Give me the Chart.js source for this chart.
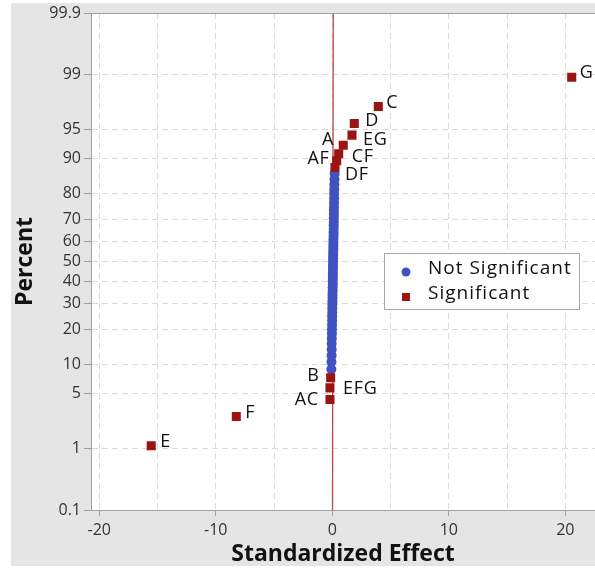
<!DOCTYPE html>
<html>
<head>
<meta charset="utf-8">
<script src="https://cdn.jsdelivr.net/npm/chart.js@4.4.1/dist/chart.umd.min.js"></script>
<style>
  html, body { margin: 0; padding: 0; background: #fff; }
  #wrap { position: relative; width: 595px; height: 569px; }
</style>
</head>
<body>
<div id="wrap"><canvas id="chart" width="595" height="569"></canvas></div>
<script>
// axis ticks
const yTicks = [0.1, 1, 5, 10, 20, 30, 40, 50, 60, 70, 80, 90, 95, 99, 99.9];
const xTicks = [-20, -10, 0, 10, 20];
const xGrid = [-20, -15, -10, -5, 0, 5, 10, 15, 20];

// significant terms (red squares), sorted by effect
const sigTerms = ['E', 'F', 'AC', 'EFG', 'B', 'DF', 'CF', 'AF', 'A', 'EG', 'D', 'C', 'G'];
const sigEffect = [-15.54, -8.24, -0.2, -0.2, -0.14, 0.23, 0.38, 0.55, 0.94, 1.69, 1.89, 3.95, 20.55];
const sigPercent = [1.1, 2.7, 4.3, 5.8, 7.4, 87.9, 89.5, 91.0, 92.6, 94.2, 95.7, 97.3, 98.9];

// not significant terms (blue dots)
const otherEffect = [
  -0.08, -0.07, -0.06, -0.05, -0.05, -0.04, -0.03, -0.03, -0.02, -0.01,
  -0.01, 0.00, 0.00, 0.01, 0.01, 0.02, 0.02, 0.03, 0.03, 0.04,
  0.04, 0.05, 0.05, 0.05, 0.06, 0.06, 0.07, 0.07, 0.08, 0.08,
  0.09, 0.09, 0.10, 0.10, 0.11, 0.11, 0.12, 0.12, 0.13, 0.13,
  0.14, 0.14, 0.15, 0.15, 0.16, 0.16, 0.17, 0.18, 0.19, 0.20
];
const otherPercent = [
  9.0, 10.6, 12.1, 13.7, 15.3, 16.9, 18.5, 20.0, 21.6, 23.2,
  24.8, 26.3, 27.9, 29.5, 31.1, 32.7, 34.2, 35.8, 37.4, 39.0,
  40.5, 42.1, 43.7, 45.3, 46.8, 48.4, 50.0, 51.6, 53.2, 54.7,
  56.3, 57.9, 59.5, 61.0, 62.6, 64.2, 65.8, 67.4, 68.9, 70.5,
  72.1, 73.7, 75.2, 76.8, 78.4, 80.0, 81.5, 83.1, 84.7, 86.3
];

// fitted reference line
const refEffect = [0.02, 0.08];
const refPercent = [0.1, 99.9];

// where each term label sits relative to its square
const labelOffset = [
  [9, -4], [9, -4], [-11, 0], [13, 1], [-11, -2], [10, 7], [15, -4],
  [-9, 5], [-9, -5], [11, 5], [11, -3], [8, -4], [8, -4]
];

const FONT = "'Open Sans', 'Noto Sans', sans-serif";

// inverse of the standard normal cdf (Acklam)
function probit(p) {
  const a = [-39.69683028665376, 220.9460984245205, -275.9285104469687, 138.3577518672690, -30.66479806614716, 2.506628277459239];
  const b = [-54.47609879822406, 161.5858368580409, -155.6989798598866, 66.80131188771972, -13.28068155288572];
  const c = [-0.007784894002430293, -0.3223964580411365, -2.400758277161838, -2.549732539343734, 4.374664141464968, 2.938163982698783];
  const d = [0.007784695709041462, 0.3224671290700398, 2.445134137142996, 3.754408661907416];
  const pl = 0.02425;
  let q, r;
  if (p < pl) {
    q = Math.sqrt(-2 * Math.log(p));
    return (((((c[0] * q + c[1]) * q + c[2]) * q + c[3]) * q + c[4]) * q + c[5]) / ((((d[0] * q + d[1]) * q + d[2]) * q + d[3]) * q + 1);
  }
  if (p > 1 - pl) {
    q = Math.sqrt(-2 * Math.log(1 - p));
    return -(((((c[0] * q + c[1]) * q + c[2]) * q + c[3]) * q + c[4]) * q + c[5]) / ((((d[0] * q + d[1]) * q + d[2]) * q + d[3]) * q + 1);
  }
  q = p - 0.5;
  r = q * q;
  return (((((a[0] * r + a[1]) * r + a[2]) * r + a[3]) * r + a[4]) * r + a[5]) * q / (((((b[0] * r + b[1]) * r + b[2]) * r + b[3]) * r + b[4]) * r + 1);
}

// normal probability axis (percent)
class ProbitScale extends Chart.LinearScale {
  determineDataLimits() {
    this.min = yTicks[0];
    this.max = yTicks[yTicks.length - 1];
  }
  buildTicks() {
    return yTicks.map(v => ({ value: v }));
  }
  getPixelForValue(value) {
    const z0 = probit(this.min / 100), z1 = probit(this.max / 100);
    return this.getPixelForDecimal((probit(value / 100) - z0) / (z1 - z0));
  }
}
ProbitScale.id = 'probit';
ProbitScale.defaults = Chart.LinearScale.defaults;
Chart.register(ProbitScale);

const backgroundPlugin = {
  id: 'bg',
  beforeDraw(chart) {
    const { ctx, chartArea: a } = chart;
    ctx.save();
    ctx.fillStyle = '#fff';
    ctx.fillRect(0, 0, chart.width, chart.height);
    ctx.fillStyle = '#e5e5e5';
    ctx.fillRect(11, 3, chart.width - 11, 563);
    ctx.fillStyle = '#fff';
    ctx.fillRect(a.left, a.top, a.right - a.left, a.bottom - a.top);
    ctx.restore();
  },
  afterDraw(chart) {
    const { ctx, chartArea: a } = chart;
    ctx.save();
    // top frame line
    ctx.strokeStyle = '#a0a0a0';
    ctx.lineWidth = 1;
    ctx.beginPath();
    ctx.moveTo(a.left, a.top + 0.5);
    ctx.lineTo(a.right, a.top + 0.5);
    ctx.stroke();

    // legend box
    ctx.fillStyle = '#fff';
    ctx.fillRect(384.5, 253.5, 195, 56);
    ctx.strokeStyle = '#a8a8a8';
    ctx.strokeRect(384.5, 253.5, 195, 56);
    ctx.fillStyle = '#4152c0';
    ctx.beginPath();
    ctx.arc(406, 272, 4.5, 0, Math.PI * 2);
    ctx.fill();
    ctx.fillStyle = '#9a1414';
    ctx.fillRect(402, 293, 8, 8);
    ctx.fillStyle = '#111';
    ctx.font = '19px ' + FONT;
    ctx.letterSpacing = '1px';
    ctx.textBaseline = 'middle';
    ctx.textAlign = 'left';
    ctx.fillText('Not Significant', 428, 269);
    ctx.fillText('Significant', 428, 294);
    ctx.restore();
  }
};

const labelPlugin = {
  id: 'termLabels',
  afterDatasetsDraw(chart) {
    const meta = chart.getDatasetMeta(2);
    const ctx = chart.ctx;
    ctx.save();
    ctx.font = '18px ' + FONT;
    ctx.letterSpacing = '0.8px';
    ctx.fillStyle = '#111';
    ctx.textBaseline = 'middle';
    meta.data.forEach((pt, i) => {
      const [dx, dy] = labelOffset[i];
      ctx.textAlign = dx < 0 ? 'right' : 'left';
      ctx.fillText(sigTerms[i], pt.x + dx, pt.y + dy);
    });
    ctx.restore();
  }
};

Chart.defaults.font.family = FONT;
Chart.defaults.color = '#333';

new Chart(document.getElementById('chart'), {
  type: 'scatter',
  data: {
    datasets: [
      {
        label: 'Fit',
        data: refEffect.map((x, i) => ({ x, y: refPercent[i] })),
        showLine: true,
        borderColor: '#b84848',
        borderWidth: 1.3,
        pointRadius: 0,
        order: 3
      },
      {
        label: 'Not Significant',
        data: otherEffect.map((x, i) => ({ x, y: otherPercent[i] })),
        backgroundColor: '#4152c0',
        borderColor: '#4152c0',
        borderWidth: 0,
        pointRadius: 5,
        order: 2
      },
      {
        label: 'Significant',
        data: sigEffect.map((x, i) => ({ x, y: sigPercent[i] })),
        backgroundColor: '#9a1414',
        borderColor: '#9a1414',
        borderWidth: 0,
        pointStyle: 'rect',
        pointRadius: 6.4,
        order: 1
      }
    ]
  },
  options: {
    responsive: false,
    animation: false,
    events: [],
    layout: { autoPadding: false, padding: { top: 13, right: 0, bottom: 0, left: 0 } },
    plugins: {
      legend: { display: false },
      tooltip: { enabled: false }
    },
    scales: {
      x: {
        type: 'linear',
        min: -20.71,
        max: 22.55,
        afterBuildTicks: s => { s.ticks = xGrid.map(v => ({ value: v })); },
        afterFit: s => { s.height = 59; },
        grid: {
          color: '#dadada',
          tickLength: 6,
          tickColor: c => xTicks.includes(c.tick.value) ? '#a0a0a0' : 'rgba(0,0,0,0)'
        },
        border: { color: '#a0a0a0', width: 1, dash: [6, 4] },
        ticks: {
          autoSkip: false,
          maxRotation: 0,
          padding: 5,
          font: { size: 16 },
          callback: v => xTicks.includes(v) ? String(v) : ''
        },
        title: {
          display: true,
          text: 'Standardized Effect',
          color: '#111',
          font: { size: 23, weight: 'bold' },
          padding: { top: 0, bottom: 1.2 }
        }
      },
      y: {
        type: 'probit',
        afterFit: s => { s.width = 91; },
        grid: {
          color: '#dadada',
          tickLength: 7,
          tickColor: '#a0a0a0'
        },
        border: { color: '#a0a0a0', width: 1, dash: [6, 4] },
        ticks: {
          autoSkip: false,
          padding: 3,
          font: { size: 16 },
          callback: v => String(v)
        },
        title: {
          display: true,
          text: 'Percent',
          color: '#111',
          font: { size: 23, weight: 'bold' },
          padding: { top: 11.2, bottom: 0 }
        }
      }
    }
  },
  plugins: [backgroundPlugin, labelPlugin]
});
</script>
</body>
</html>
